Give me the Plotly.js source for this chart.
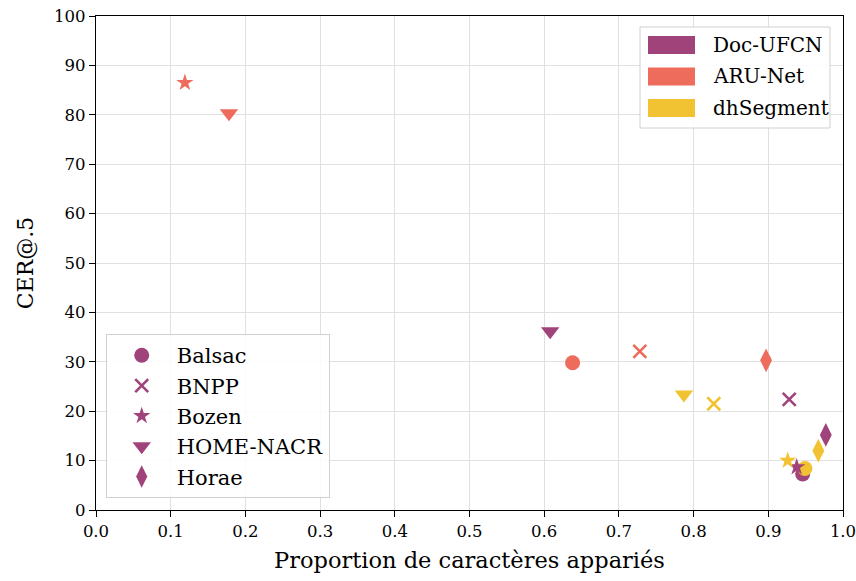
<!DOCTYPE html>
<html>
<head>
<meta charset="utf-8">
<script src="https://cdn.plot.ly/plotly-3.0.1.min.js"></script>
<style>html,body{margin:0;padding:0;background:#fff;}#chart{width:856px;height:581px;}</style>
</head>
<body>
<div id="chart"></div>
<script>
// Data
const models = ["Doc-UFCN", "ARU-Net", "dhSegment"];
const datasets = ["Balsac", "BNPP", "Bozen", "HOME-NACR", "Horae"];
// x: proportion de caractères appariés, y: CER@.5, per model, in dataset order
const docUfcnX = [0.946, 0.928, 0.938, 0.608, 0.977];
const docUfcnY = [7.3, 22.4, 8.7, 36.2, 15.2];
const aruNetX = [0.638, 0.728, 0.119, 0.178, 0.897];
const aruNetY = [29.8, 32.1, 86.5, 80.3, 30.3];
const dhSegmentX = [0.949, 0.827, 0.926, 0.787, 0.967];
const dhSegmentY = [8.4, 21.5, 10.0, 23.4, 12.0];
const xTicks = [0.0, 0.1, 0.2, 0.3, 0.4, 0.5, 0.6, 0.7, 0.8, 0.9, 1.0];
const yTicks = [0, 10, 20, 30, 40, 50, 60, 70, 80, 90, 100];

const colors = ["#a1437b", "#ed6c5b", "#f1c232"];
const symbols = ["circle", "x-thin-open", "star", "triangle-down", "diamond-tall"];
const sizes = [15, 13, 13, 16, 17];
const FONT = "DejaVu Serif";

const allX = [docUfcnX, aruNetX, dhSegmentX];
const allY = [docUfcnY, aruNetY, dhSegmentY];

const traces = [];
datasets.forEach((d, di) => {
  models.forEach((m, mi) => {
    const isX = symbols[di].startsWith("x");
    traces.push({
      type: "scatter", mode: "markers",
      x: [allX[mi][di]], y: [allY[mi][di]], name: m + " / " + d,
      marker: {symbol: symbols[di], size: sizes[di], color: colors[mi],
        line: {color: colors[mi], width: isX ? 2.6 : 0}},
      showlegend: false, hoverinfo: "x+y+name"
    });
  });
});
// dataset legend (marker shapes)
datasets.forEach((d, di) => {
  const isX = symbols[di].startsWith("x");
  traces.push({
    type: "scatter", mode: "markers", x: [null], y: [null], name: d,
    marker: {symbol: symbols[di], size: sizes[di], color: colors[0],
      line: {color: colors[0], width: isX ? 2.6 : 0}},
    legend: "legend2", showlegend: true
  });
});

// model legend (colour patches) built in paper coordinates
const px2x = p => (p - 96) / 747;
const px2y = p => (510 - p) / 494;
const shapes = [{
  type: "rect", xref: "paper", yref: "paper",
  x0: px2x(640), x1: px2x(830), y0: px2y(128), y1: px2y(27),
  line: {color: "#d0d0d0", width: 1}, fillcolor: "rgba(255,255,255,0.85)", layer: "above"
}];
const annotations = [];
models.forEach((m, mi) => {
  const cy = 45 + mi * 31.5;
  shapes.push({
    type: "rect", xref: "paper", yref: "paper",
    x0: px2x(648), x1: px2x(695), y0: px2y(cy + 9), y1: px2y(cy - 9),
    line: {width: 0}, fillcolor: colors[mi], layer: "above"
  });
  annotations.push({
    xref: "paper", yref: "paper", x: px2x(711), y: px2y(cy),
    xanchor: "left", yanchor: "middle", showarrow: false, text: m,
    font: {family: FONT, size: 20, color: "#000"}
  });
});

const axisCommon = {
  showline: true, linecolor: "#000", linewidth: 1.3, mirror: true,
  ticks: "outside", ticklen: 6, tickcolor: "#000", tickwidth: 1.3,
  showgrid: true, gridcolor: "#e0e0e0", gridwidth: 1.2, zeroline: false,
  ticklabeloverflow: "allow",
  tickfont: {family: FONT, size: 16.5, color: "#000"}
};

const layout = {
  width: 856, height: 581,
  margin: {l: 96, r: 13, t: 16, b: 71},
  paper_bgcolor: "#fff", plot_bgcolor: "#fff",
  font: {family: FONT, color: "#000"},
  xaxis: Object.assign({}, axisCommon, {
    range: [0, 1], tickvals: xTicks, ticktext: xTicks.map(v => v.toFixed(1)),
    title: {text: "Proportion de caractères appariés", font: {family: FONT, size: 22.5}, standoff: 12}
  }),
  yaxis: Object.assign({}, axisCommon, {
    range: [0, 100], tickvals: yTicks, ticktext: yTicks.map(String),
    title: {text: "CER@.5", font: {family: FONT, size: 22}, standoff: 14}
  }),
  shapes: shapes,
  annotations: annotations,
  legend2: {
    x: 0.013, y: 0.024, xanchor: "left", yanchor: "bottom",
    bgcolor: "rgba(255,255,255,0.85)", bordercolor: "#d0d0d0", borderwidth: 1,
    font: {family: FONT, size: 21, color: "#000"}, itemwidth: 60
  }
};

Plotly.newPlot("chart", traces, layout, {displayModeBar: false});
</script>
</body>
</html>
